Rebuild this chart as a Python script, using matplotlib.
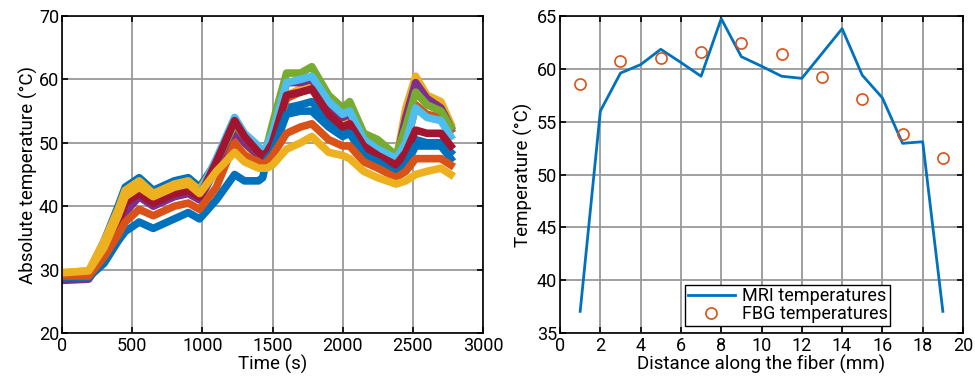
import numpy as np
import matplotlib.pyplot as plt

# =========================
# left panel: absolute temperature vs time (values read at coarse nodes)
# =========================
t_nodes = [0, 190, 300, 400, 450, 550, 650, 700, 800, 900, 980, 1100, 1230, 1300,
           1400, 1430, 1460, 1500, 1600, 1700, 1780, 1900, 2000, 2050, 2150, 2250,
           2380, 2450, 2520, 2600, 2700, 2770]

blue_a = [29.5, 29.5, 34.5, 40.0, 43.0, 44.5, 42.5, 43.0, 44.0, 44.5, 43.0, 47.0, 52.0, 50.0,
          48.5, 47.5, 48.0, 49.5, 55.5, 56.0, 56.5, 53.5, 52.0, 52.0, 48.5, 47.5,
          45.5, 47.5, 50.5, 50.0, 50.0, 48.5]
orange_a = [29.3, 29.3, 33.5, 39.0, 42.0, 43.5, 41.5, 42.0, 43.0, 43.5, 42.0, 46.5, 51.5, 49.5,
            48.0, 47.5, 48.0, 50.0, 57.0, 58.0, 58.5, 55.0, 53.0, 53.5, 50.0, 48.5,
            46.5, 49.0, 56.0, 54.5, 54.0, 52.0]
yellow_a = [29.5, 29.8, 34.5, 39.5, 42.5, 44.0, 42.0, 42.5, 43.5, 44.0, 42.5, 47.0, 50.0, 49.0,
            47.5, 47.0, 47.5, 50.0, 57.5, 58.5, 59.5, 55.5, 53.5, 54.0, 50.5, 49.0,
            47.0, 55.5, 60.5, 57.5, 56.5, 53.0]
purple = [28.3, 28.5, 32.0, 37.0, 39.0, 41.5, 40.0, 40.5, 41.5, 42.0, 41.0, 46.0, 52.0, 50.0,
          48.0, 47.5, 48.5, 51.0, 59.5, 59.5, 60.0, 56.0, 54.0, 54.5, 50.5, 49.0,
          47.0, 54.0, 59.5, 57.0, 55.5, 52.5]
green = [29.2, 29.3, 33.0, 38.0, 41.0, 42.5, 41.0, 41.5, 42.5, 43.0, 42.0, 47.0, 53.0, 51.0,
         48.5, 48.0, 49.5, 53.0, 61.0, 61.0, 62.0, 57.5, 55.5, 56.5, 51.5, 50.5,
         48.0, 52.5, 58.0, 56.0, 55.0, 52.5]
light_blue = [29.2, 29.3, 33.0, 38.0, 41.0, 42.5, 41.0, 41.5, 42.5, 43.0, 42.0, 47.5, 54.0, 51.5,
              49.5, 48.5, 49.5, 51.5, 59.5, 60.0, 60.5, 56.5, 54.5, 55.0, 50.5, 49.0,
              47.5, 50.0, 55.5, 54.0, 53.5, 51.0]
red = [29.0, 29.0, 32.5, 37.5, 40.5, 42.0, 40.5, 41.0, 42.0, 42.5, 41.5, 47.0, 53.5, 51.0,
       48.5, 48.0, 48.5, 50.0, 57.5, 58.0, 58.5, 54.5, 52.5, 53.0, 49.5, 48.0,
       46.5, 48.5, 52.0, 51.5, 51.5, 49.5]
blue_b = [28.8, 28.8, 31.0, 34.5, 36.0, 37.5, 36.5, 37.0, 38.0, 39.0, 38.0, 41.0, 45.0, 44.0,
          44.0, 44.5, 47.5, 48.5, 54.5, 55.0, 55.0, 52.5, 51.0, 51.5, 48.0, 47.0,
          45.0, 46.5, 49.5, 49.5, 49.5, 47.5]
orange_b = [29.0, 29.0, 32.0, 35.5, 37.5, 39.5, 38.5, 39.0, 40.0, 40.5, 39.5, 43.0, 50.0, 48.0,
            47.0, 46.5, 47.0, 48.0, 51.5, 52.5, 53.0, 50.5, 49.5, 49.5, 47.0, 46.0,
            44.5, 45.5, 47.5, 47.5, 47.5, 46.5]
yellow_b = [29.5, 29.8, 33.5, 38.5, 41.5, 43.0, 41.5, 42.0, 43.0, 43.5, 42.0, 45.5, 48.5, 47.0,
            46.0, 46.0, 46.0, 46.5, 49.0, 50.0, 51.0, 48.5, 48.0, 47.5, 45.5, 44.5,
            43.5, 44.0, 45.0, 45.5, 46.0, 45.0]

series = [blue_a, orange_a, yellow_a, purple, green, light_blue, red, blue_b, orange_b, yellow_b]
colors = ['#0072BD', '#D95319', '#EDB120', '#7E2F8E', '#77AC30',
          '#4DBEEE', '#A2142F', '#0072BD', '#D95319', '#EDB120']

# =========================
# right panel: temperature along the fiber
# =========================
dist_mri = list(range(1, 20))
temp_mri = [37.05, 56.0, 59.6, 60.4, 61.85, 60.6, 59.3, 64.75, 61.15, 60.25,
            59.3, 59.1, 61.45, 63.8, 59.4, 57.25, 52.95, 53.1, 37.05]
dist_fbg = [1, 3, 5, 7, 9, 11, 13, 15, 17, 19]
temp_fbg = [58.6, 60.7, 61.0, 61.6, 62.4, 61.4, 59.2, 57.1, 53.8, 51.6]

plt.rcParams['font.family'] = ['Roboto', 'DejaVu Sans']
plt.rcParams['font.size'] = 13.5


def style_axes(ax):
    ax.grid(True, color='#999999', linewidth=1.3)
    ax.set_axisbelow(True)
    ax.tick_params(direction='in', top=True, right=True, length=4, width=1.2,
                   labelsize=13, pad=2)
    ax.tick_params(axis='x', pad=3)
    for s in ax.spines.values():
        s.set_linewidth(1.2)


fig = plt.figure(figsize=(9.75, 3.83), dpi=100)

ax1 = fig.add_axes([0.0636, 0.1305, 0.4318, 0.8277])
for vals, c in zip(series, colors):
    ax1.plot(t_nodes, vals, color=c, linewidth=5.5, solid_joinstyle='round')
ax1.set_xlim(0, 3000)
ax1.set_ylim(20, 70)
ax1.set_xticks(np.arange(0, 3001, 500))
ax1.set_yticks(np.arange(20, 71, 10))
ax1.set_xlabel('Time (s)', labelpad=0)
ax1.set_ylabel('Absolute temperature (°C)', labelpad=1)
style_axes(ax1)

ax2 = fig.add_axes([0.5744, 0.1305, 0.4133, 0.8277])
ax2.plot(dist_mri, temp_mri, color='#0072BD', linewidth=2, label='MRI temperatures')
ax2.plot(dist_fbg, temp_fbg, linestyle='none', marker='o', markersize=8,
         markerfacecolor='none', markeredgecolor='#D95319', markeredgewidth=1.2,
         label='FBG temperatures')
ax2.set_xlim(0, 20)
ax2.set_ylim(35, 65)
ax2.set_xticks(np.arange(0, 21, 2))
ax2.set_yticks(np.arange(35, 66, 5))
ax2.set_xlabel('Distance along the fiber (mm)', labelpad=0)
ax2.set_ylabel('Temperature (°C)', labelpad=3)
style_axes(ax2)

leg = ax2.legend(loc='lower left', bbox_to_anchor=(0.31, 0.022), fancybox=False,
                 edgecolor='black', framealpha=1, borderpad=0.15, labelspacing=0.0,
                 handlelength=2.6, handletextpad=0.4, borderaxespad=0, fontsize=13)
leg.get_frame().set_linewidth(1.0)

fig.savefig('out.png', dpi=100)
